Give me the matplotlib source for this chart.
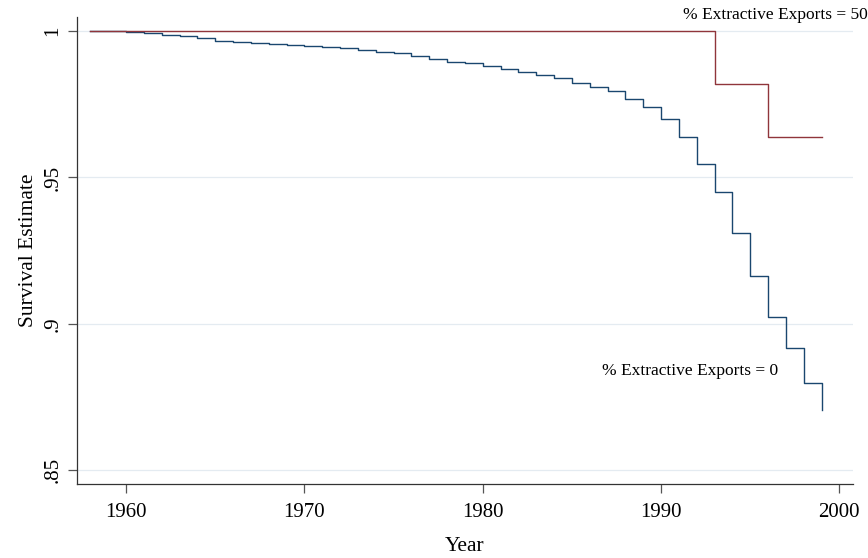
import matplotlib
matplotlib.use("Agg")
import matplotlib.pyplot as plt

# Kaplan-Meier style step estimates, value holds from that year onward
years_zero = list(range(1958, 2000))
surv_zero = [
    1.0, 0.9999, 0.99956, 0.99921, 0.99874, 0.99819, 0.99751, 0.99668,
    0.99614, 0.9959, 0.99556, 0.99522, 0.99487, 0.99443, 0.99409, 0.99361,
    0.99282, 0.99238, 0.99146, 0.99053, 0.98951, 0.98896, 0.98804, 0.98701,
    0.98589, 0.98496, 0.98383, 0.98213, 0.98076, 0.97939, 0.97686, 0.97413,
    0.96982, 0.96388, 0.95465, 0.94487, 0.93086, 0.91637, 0.90249, 0.89190,
    0.87970, 0.87047,
]
years_fifty = [1958, 1993, 1996, 1999]
surv_fifty = [1.0, 0.9818, 0.9637, 0.9637]

x_ticks = [1960, 1970, 1980, 1990, 2000]
y_ticks = [0.85, 0.9, 0.95, 1.0]
y_tick_labels = [".85", ".9", ".95", "1"]

label_zero = "% Extractive Exports = 0"
label_fifty = "% Extractive Exports = 50"

NAVY = "#1a476f"
MAROON = "#90353b"
GRID = "#e4ebf1"

plt.rcParams["font.family"] = ["Liberation Serif", "DejaVu Serif"]

fig = plt.figure(figsize=(8.68, 5.58), dpi=100)
ax = fig.add_axes([0.0887, 0.1326, 0.8937, 0.8364])

for y in y_ticks:
    ax.axhline(y, color=GRID, linewidth=0.9, zorder=0)

ax.plot(years_zero, surv_zero, drawstyle="steps-post", color=NAVY, linewidth=1.0, zorder=3)
ax.plot(years_fifty, surv_fifty, drawstyle="steps-post", color=MAROON, linewidth=1.0, zorder=3)

ax.text(1991.24, 1.0055, label_fifty, fontsize=12.5, ha="left", va="center", clip_on=False)
ax.text(1991.63, 0.8839, label_zero, fontsize=12.5, ha="center", va="center")

ax.set_xlim(1957.25, 2000.75)
ax.set_ylim(0.8453, 1.0047)
ax.set_xticks(x_ticks)
ax.set_yticks(y_ticks)
ax.set_yticklabels(y_tick_labels, rotation=90, va="center")
ax.tick_params(axis="both", labelsize=15, color="#555555", length=6.5, width=0.9)
ax.tick_params(axis="x", pad=7)
ax.tick_params(axis="y", pad=4)

ax.set_xlabel("Year", fontsize=15.5, labelpad=11)
ax.set_ylabel("Survival Estimate", fontsize=15.5, labelpad=4)

for side in ("top", "right"):
    ax.spines[side].set_visible(False)
for side in ("left", "bottom"):
    ax.spines[side].set_color("#333333")
    ax.spines[side].set_linewidth(0.9)

fig.savefig("out.png", dpi=100)
